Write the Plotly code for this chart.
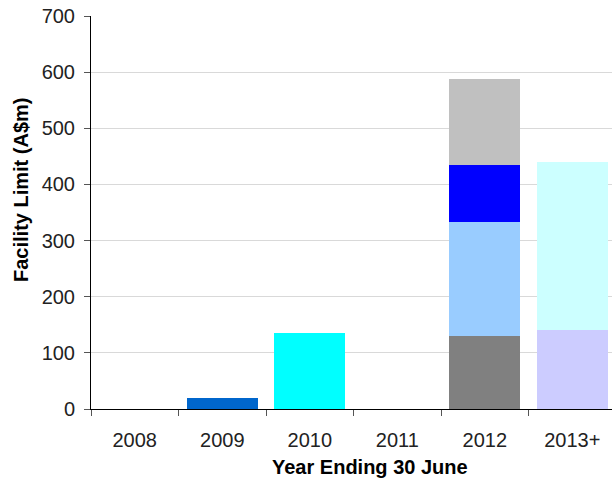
import plotly.graph_objects as go

categories = ["2008", "2009", "2010", "2011", "2012", "2013+"]

# Facility limits (A$m), one stacked segment per series
series_names = ["Facility A", "Facility B", "Facility C", "Facility D",
                "Facility E", "Facility F", "Facility G", "Facility H"]
series_values = [
    [None, 20, None, None, None, None],     # 2009 facility
    [None, None, 135, None, None, None],    # 2010 facility
    [None, None, None, None, 130, None],    # 2012 segment 1
    [None, None, None, None, 203, None],    # 2012 segment 2
    [None, None, None, None, 102, None],    # 2012 segment 3
    [None, None, None, None, 152, None],    # 2012 segment 4
    [None, None, None, None, None, 141],    # 2013+ segment 1
    [None, None, None, None, None, 299],    # 2013+ segment 2
]
series_colors = ["#0066CC", "#00FFFF", "#808080", "#99CCFF",
                 "#0000FF", "#C0C0C0", "#CCCCFF", "#CCFFFF"]

y_ticks = [0, 100, 200, 300, 400, 500, 600, 700]

fig = go.Figure()
for name, vals, col in zip(series_names, series_values, series_colors):
    fig.add_trace(go.Bar(x=categories, y=vals, name=name,
                         marker=dict(color=col, line=dict(width=0))))

FONT = "Liberation Sans, Arial, Helvetica, sans-serif"

fig.update_layout(
    barmode="stack",
    bargap=0.19,
    width=612, height=479,
    margin=dict(l=91, r=0, t=16, b=70),
    paper_bgcolor="white", plot_bgcolor="white",
    showlegend=False,
    font=dict(family=FONT, size=20, color="#222222"),
    xaxis=dict(
        type="category",
        range=[-0.5, 5.454],
        showgrid=False,
        showline=True, linecolor="black", linewidth=1,
        ticks="outside", tickson="boundaries", ticklen=6, tickcolor="#555555",
        ticklabelstandoff=13,
        tickfont=dict(size=20, color="#222222"),
    ),
    yaxis=dict(
        range=[0, 700],
        tickvals=y_ticks,
        showgrid=True, gridcolor="#d9d9d9", gridwidth=1,
        zeroline=False,
        showline=True, linecolor="black", linewidth=1,
        ticks="outside", ticklen=6, tickcolor="#555555",
        ticklabelstandoff=5,
        tickfont=dict(size=20, color="#222222"),
    ),
    annotations=[
        dict(text="<b>Facility Limit (A$m)</b>", textangle=-90,
             xref="paper", yref="paper", x=(21 - 91) / 521, y=(409 - 190) / 393,
             xanchor="center", yanchor="middle", showarrow=False,
             font=dict(family=FONT, size=20, color="black")),
        dict(text="<b>Year Ending 30 June</b>",
             xref="paper", yref="paper", x=(370 - 91) / 521, y=(409 - 467) / 393,
             xanchor="center", yanchor="middle", showarrow=False,
             font=dict(family=FONT, size=20, color="black")),
    ],
)

fig.write_html("out.html")
